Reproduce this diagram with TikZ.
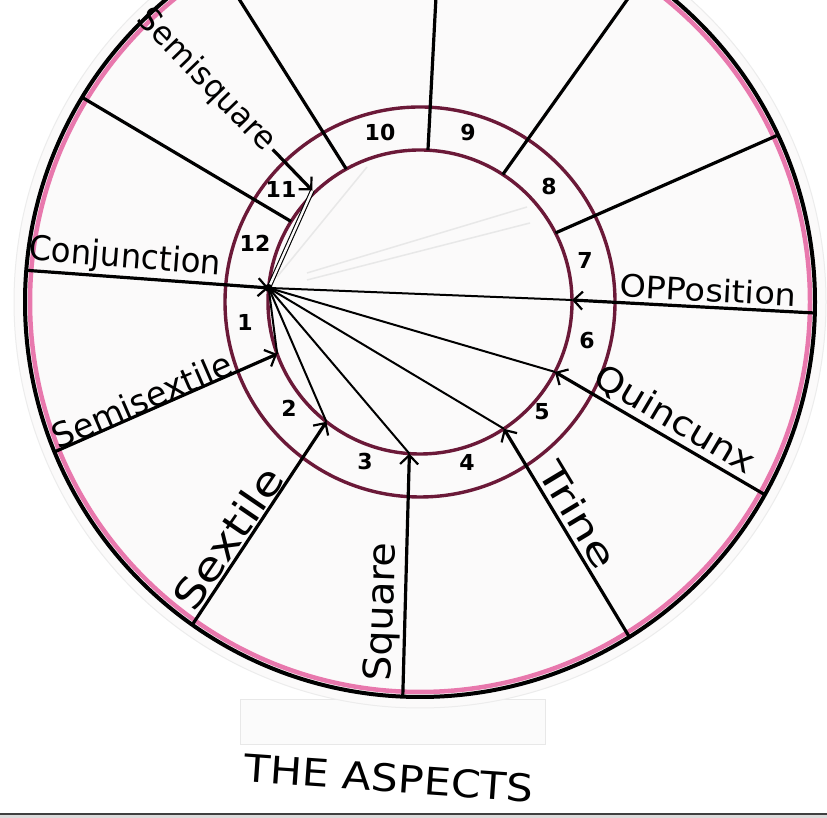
\documentclass[tikz,border=0pt]{standalone}
\usepackage{fontspec}
\setmainfont{DejaVu Sans}
\usetikzlibrary{arrows.meta}
\definecolor{ringred}{rgb}{0.42,0.10,0.22}
\definecolor{rimpink}{rgb}{0.91,0.47,0.68}
\definecolor{paper}{rgb}{0.985,0.98,0.98}
\begin{document}
\begin{tikzpicture}[x=1pt,y=1pt,
  rim/.style={line width=4pt,black},
  pinkrim/.style={line width=4.5pt,rimpink},
  ringline/.style={line width=3.4pt,ringred},
  cusp/.style={line width=3.2pt,black},
  aspect/.style={line width=3.2pt,black},
  ray/.style={line width=2pt,black},
  tip/.style={-{Straight Barb[length=9pt,width=18pt,line width=2.2pt]}},
  pencil/.style={line width=1.5pt,gray!18},
  lab/.style={inner sep=0pt,font=\fontsize{34}{34}\selectfont},
  num/.style={inner sep=0pt,font=\fontsize{22}{22}\selectfont\bfseries}]
\useasboundingbox (0,0) rectangle (827,818);
\clip (0,0) rectangle (827,818);
\fill[white] (0,0) rectangle (827,818);
% tab below the disc
\draw[gray!18,fill=white!97!gray,line width=1pt] (240,73) rectangle (545,118);
\begin{scope}[shift={(420,516)}]
  % paper disc
  \fill[paper,draw=gray!15,line width=1pt] (0,0) circle (406);
  % outer rim
  \draw[pinkrim] (0,0) circle (390);
  \draw[rim] (0,0) circle (395);
  % ring
  \draw[ringline] (0,0) circle (195);
  \draw[ringline] (0,0) circle (152);
  % faint pencil lines
  \coordinate (f1a) at (-143,25); \coordinate (f1b) at (-53,135);
  \coordinate (f2a) at (-113,29); \coordinate (f2b) at (107,95);
  \coordinate (f3a) at (-113,22); \coordinate (f3b) at (110,79);
  \draw[pencil] (f1a) -- (f1b);
  \draw[pencil] (f2a) -- (f2b);
  \draw[pencil] (f3a) -- (f3b);
  % house cusps
  \coordinate (h9i) at (87:152);    \coordinate (h9o) at (87:395);
  \coordinate (h8i) at (57:152);    \coordinate (h8o) at (55.5:395);
  \coordinate (h7i) at (27:152);    \coordinate (h7o) at (25:395);
  \coordinate (h10i) at (119:152);  \coordinate (h10o) at (121:395);
  \coordinate (h11i) at (148:152);  \coordinate (h11o) at (148.8:395);
  \draw[cusp] (h9i) -- (h9o);
  \draw[cusp] (h8i) -- (h8o);
  \draw[cusp] (h7i) -- (h7o);
  \draw[cusp] (h10i) -- (h10o);
  \draw[cusp] (h11i) -- (h11o);
  % aspect points
  \coordinate (C) at (174.7:152);
  \coordinate (tSsq) at (134:155);  \coordinate (sSsq) at (134:212);
  \coordinate (tSsx) at (200:152);  \coordinate (oSsx) at (202.3:395);
  \coordinate (tSxt) at (232:152);  \coordinate (oSxt) at (234.8:395);
  \coordinate (tSq) at (266:152);   \coordinate (oSq) at (267.5:395);
  \coordinate (tTr) at (303.5:152); \coordinate (oTr) at (302:395);
  \coordinate (tQx) at (332.6:152); \coordinate (oQx) at (330.8:395);
  \coordinate (tOp) at (0.75:152);  \coordinate (oOp) at (358.4:395);
  \coordinate (oCj) at (175.4:395);
  % rays from the conjunction point
  \draw[line width=1.1pt,black,double=paper,double distance=2.4pt] (C) -- (tSsq);
  \draw[ray] (C) -- (tSsx);
  \draw[ray] (C) -- (tSxt);
  \draw[ray] (C) -- (tSq);
  \draw[ray] (C) -- (tTr);
  \draw[ray] (C) -- (tQx);
  \draw[ray] (C) -- (tOp);
  % aspect lines with arrows
  \draw[aspect,tip] (oCj) -- (C);
  \draw[aspect,tip] (sSsq) -- (tSsq);
  \draw[aspect,tip] (oSsx) -- (tSsx);
  \draw[aspect,tip] (oSxt) -- (tSxt);
  \draw[aspect,tip] (oSq) -- (tSq);
  \draw[aspect,tip] (oTr) -- (tTr);
  \draw[aspect,tip] (oQx) -- (tQx);
  \draw[aspect,tip] (oOp) -- (tOp);
  \fill[black] (C) circle (4);
  % labels
  \node[lab,rotate=-46,xscale=0.97,font=\fontsize{32}{32}\selectfont] (lSsq) at (134:308) {Semisquare};
  \node[lab,rotate=-4.5,xscale=0.95] (lCj) at (-295,44) {Conjunction};
  \node[lab,rotate=23.5,xscale=0.98] (lSsx) at (-278,-98) {Semisextile};
  \node[lab,rotate=55.7,xscale=1.2,font=\fontsize{40}{40}\selectfont] (lSxt) at (-192,-236) {Sextile};
  \node[lab,rotate=88,xscale=1.04,font=\fontsize{38}{38}\selectfont] (lSq) at (-37,-310) {Square};
  \node[lab,rotate=-59,xscale=1.35,font=\fontsize{36}{36}\selectfont] (lTr) at (158,-213) {Trine};
  \node[lab,rotate=-30.6,xscale=1.12] (lQx) at (255,-118) {Quincunx};
  \node[lab,rotate=-3,xscale=1.08,font=\fontsize{31}{31}\selectfont] (lOp) at (288,12) {OPPosition};
  % house numbers
  \node[num] (n10) at (-40,169) {10};
  \node[num] (n9) at (48,169) {9};
  \node[num] (n8) at (129,115) {8};
  \node[num] (n7) at (165,42) {7};
  \node[num] (n6) at (167,-39) {6};
  \node[num] (n5) at (122,-110) {5};
  \node[num] (n4) at (47,-160) {4};
  \node[num] (n3) at (-55,-159) {3};
  \node[num] (n2) at (-131,-106) {2};
  \node[num] (n1) at (-175,-20) {1};
  \node[num] (n12) at (-165,59) {12};
  \node[num] (n11) at (-139,113) {11};
\end{scope}
% title
\node[lab,rotate=-4,xscale=1.12,font=\fontsize{38}{38}\selectfont] (title) at (389,40) {THE ASPECTS};
% bottom edge
\fill[gray!28] (0,0) rectangle (827,4);
\draw[black!75,line width=1.5pt] (0,4) -- (827,4);
\end{tikzpicture}
\end{document}
